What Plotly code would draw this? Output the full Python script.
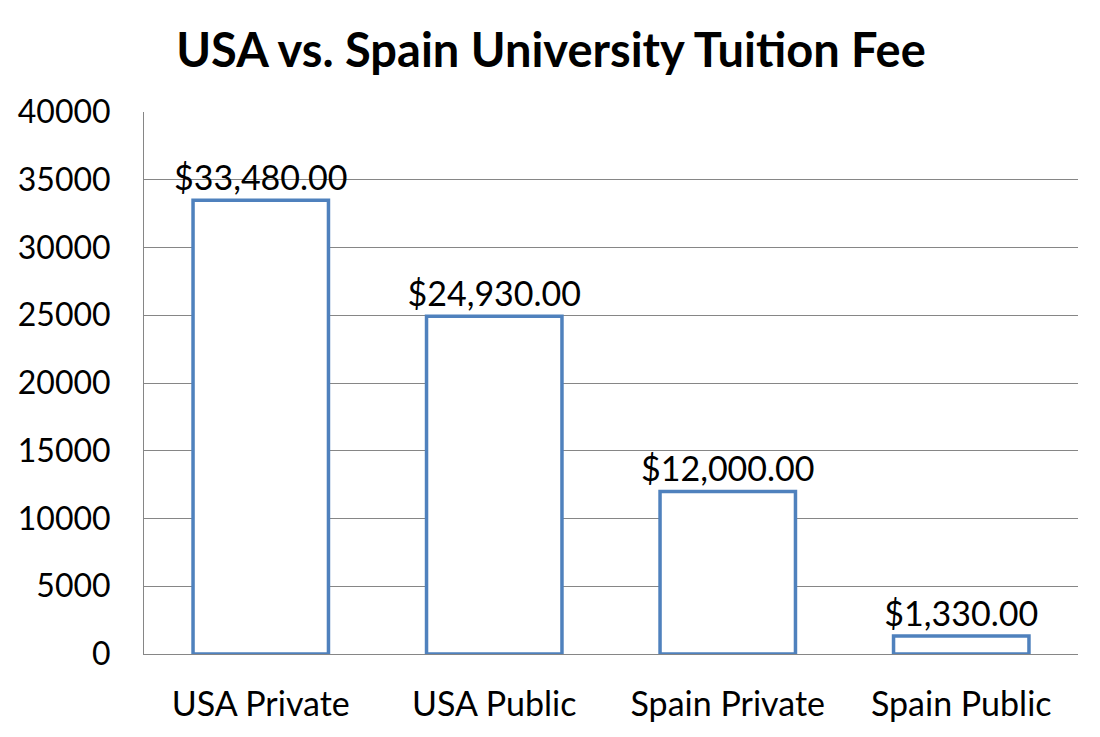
import plotly.graph_objects as go

categories = ["USA Private", "USA Public", "Spain Private", "Spain Public"]
values = [33480, 24930, 12000, 1330]
labels = ["$33,480.00", "$24,930.00", "$12,000.00", "$1,330.00"]
tick_vals = [0, 5000, 10000, 15000, 20000, 25000, 30000, 35000, 40000]

FONT = "Lato, 'Open Sans', sans-serif"

fig = go.Figure(go.Bar(
    x=categories, y=values,
    text=labels, textposition="outside", cliponaxis=False, constraintext="none",
    textfont=dict(size=34, color="#000000", family=FONT),
    marker=dict(color="white", line=dict(color="#4F81BD", width=3.5)),
))

fig.update_layout(
    width=1100, height=737,
    paper_bgcolor="white", plot_bgcolor="white",
    margin=dict(l=136, r=30, t=104, b=91, autoexpand=False),
    bargap=0.42,
    showlegend=False,
    title=dict(text="<b>USA vs. Spain University Tuition Fee</b>",
               x=(551 - 8) / 1100, xanchor="center", y=1 - (51 - 8) / 737, yanchor="middle",
               font=dict(size=47, color="#000000", family=FONT)),
    font=dict(family=FONT, color="#000000"),
)
fig.update_yaxes(range=[0, 40000], tickvals=tick_vals, ticktext=[str(v) for v in tick_vals],
                 showgrid=True, gridcolor="#868686", gridwidth=1,
                 showline=True, linecolor="#868686", linewidth=1, automargin=False,
                 ticks="outside", ticklen=26, tickcolor="rgba(0,0,0,0)",
                 tickfont=dict(size=32, family=FONT, color="#000000"), zeroline=False)
fig.update_xaxes(showline=True, linecolor="#868686", linewidth=1, automargin=False,
                 ticks="outside", ticklen=20, tickcolor="rgba(0,0,0,0)",
                 tickfont=dict(size=34, family=FONT, color="#000000"))

fig.write_html("out.html")
